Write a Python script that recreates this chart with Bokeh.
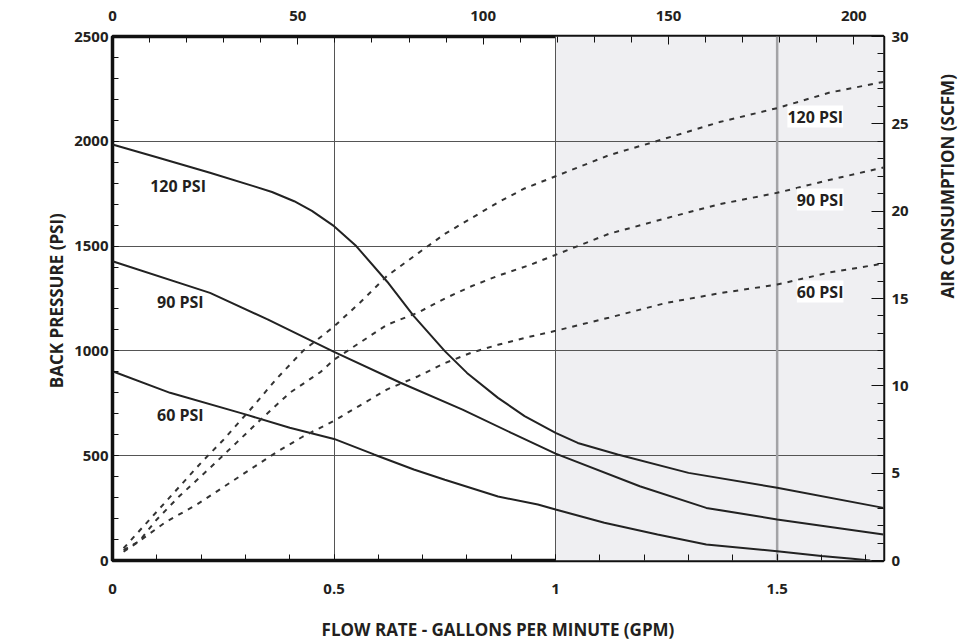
import math
from bokeh.plotting import figure
from bokeh.models import Range1d, LinearAxis, FixedTicker, BoxAnnotation, Span, Label
from bokeh.embed import file_html
from bokeh.resources import INLINE

# ---------------- data ----------------
# Back pressure (PSI) vs flow (GPM), solid curves
bp120_gpm = [0, 0.1, 0.22, 0.32, 0.36, 0.41, 0.45, 0.5, 0.55, 0.62, 0.68, 0.75, 0.8, 0.87, 0.93, 1.0, 1.05, 1.14, 1.3, 1.5, 1.74]
bp120_psi = [1985, 1924, 1850, 1785, 1758, 1714, 1668, 1595, 1500, 1330, 1166, 999, 895, 776, 689, 609, 561, 506, 418, 347, 251]

bp90_gpm = [0, 0.22, 0.35, 0.5, 0.65, 0.79, 0.9, 1.0, 1.19, 1.34, 1.5, 1.74]
bp90_psi = [1428, 1277, 1150, 995, 848, 720, 609, 510, 354, 251, 196, 124]

bp60_gpm = [0, 0.13, 0.3, 0.4, 0.5, 0.59, 0.68, 0.75, 0.87, 0.96, 1.0, 1.11, 1.23, 1.34, 1.5, 1.6, 1.67, 1.71]
bp60_psi = [903, 800, 697, 633, 580, 506, 434, 385, 305, 267, 243, 180, 124, 76, 44, 21, 8, 0]

# Air consumption (SCFM) vs flow (GPM), dashed curves
air120_gpm = [0.025, 0.05, 0.1, 0.15, 0.2, 0.25, 0.32, 0.37, 0.43, 0.5, 0.56, 0.62, 0.69, 0.75, 0.81, 0.87, 0.93, 1.0, 1.12, 1.24, 1.37, 1.5, 1.62, 1.74]
air120_scfm = [0.7, 1.4, 2.8, 4.2, 5.6, 6.9, 8.9, 10.4, 12.0, 13.4, 14.8, 16.3, 17.6, 18.7, 19.6, 20.5, 21.3, 22.0, 23.2, 24.1, 25.1, 25.9, 26.8, 27.4]

air90_gpm = [0.025, 0.06, 0.1, 0.15, 0.22, 0.28, 0.34, 0.4, 0.47, 0.5, 0.56, 0.62, 0.69, 0.75, 0.81, 0.87, 0.94, 1.0, 1.12, 1.25, 1.37, 1.5, 1.62, 1.74]
air90_scfm = [0.6, 1.1, 2.35, 3.66, 5.3, 6.75, 8.2, 9.6, 10.8, 11.5, 12.5, 13.5, 14.2, 15.0, 15.7, 16.3, 16.9, 17.5, 18.7, 19.6, 20.4, 21.05, 21.8, 22.5]

air60_gpm = [0.025, 0.06, 0.12, 0.19, 0.25, 0.31, 0.37, 0.43, 0.5, 0.56, 0.62, 0.69, 0.75, 0.81, 0.87, 0.94, 1.0, 1.12, 1.25, 1.37, 1.5, 1.62, 1.74]
air60_scfm = [0.5, 1.1, 2.2, 3.2, 4.2, 5.2, 6.2, 7.1, 8.0, 8.9, 9.8, 10.55, 11.3, 11.9, 12.35, 12.8, 13.15, 13.9, 14.75, 15.3, 15.8, 16.5, 17.0]

# axes
gpm_ticks = [0, 0.5, 1, 1.5]
gpm_tick_labels = ["0", "0.5", "1", "1.5"]
top_ticks = [0, 50, 100, 150, 200]
psi_ticks = [0, 500, 1000, 1500, 2000, 2500]
scfm_ticks = [0, 5, 10, 15, 20, 25, 30]

# curve labels (text, gpm, psi)
left_labels = [("120 PSI", 0.148, 1789), ("90 PSI", 0.153, 1231), ("60 PSI", 0.153, 692)]
right_labels = [("120 PSI", 1.586, 2118), ("90 PSI", 1.597, 1722), ("60 PSI", 1.597, 1283)]

FONT = "Open Sans"
TXT = "#231f20"

p = figure(width=973, height=643, output_backend="svg", toolbar_location=None,
           x_range=Range1d(0, 1.74), y_range=Range1d(0, 2500),
           min_border_left=112, min_border_right=88, min_border_top=36, min_border_bottom=82)
p.extra_x_ranges = {"top": Range1d(0, 208)}
p.extra_y_ranges = {"air": Range1d(0, 30)}

p.outline_line_color = "#111111"
p.outline_line_width = 3.5
p.background_fill_color = "white"
p.border_fill_color = "white"

# shaded region
p.add_layout(BoxAnnotation(left=1.0, fill_color="#efeff2", fill_alpha=1.0, line_color=None, level="image"))

# grids
p.xgrid.ticker = FixedTicker(ticks=[0.5, 1.0])
p.xgrid.grid_line_color = "#555555"
p.xgrid.grid_line_width = 1
p.ygrid.ticker = FixedTicker(ticks=[500, 1000, 1500, 2000])
p.ygrid.grid_line_color = "#555555"
p.ygrid.grid_line_width = 1
p.add_layout(Span(location=1.5, dimension="height", line_color="#a3a3a6", line_width=2.5, level="underlay"))

# curves
for gx, gy in [(bp120_gpm, bp120_psi), (bp90_gpm, bp90_psi), (bp60_gpm, bp60_psi)]:
    p.line(gx, gy, line_color="#222222", line_width=2)
for gx, gy in [(air120_gpm, air120_scfm), (air90_gpm, air90_scfm), (air60_gpm, air60_scfm)]:
    p.line(gx, gy, y_range_name="air", line_color="#333333", line_width=2, line_dash="5 6")

# axes
xa = p.xaxis[0]
xa.ticker = FixedTicker(ticks=gpm_ticks, minor_ticks=[i / 10 for i in range(0, 18)])
xa.major_label_overrides = dict(zip(gpm_ticks, gpm_tick_labels))
xa.axis_label = "FLOW RATE - GALLONS PER MINUTE (GPM)"
ya = p.yaxis[0]
ya.ticker = FixedTicker(ticks=psi_ticks, minor_ticks=list(range(0, 2501, 100)))
ya.axis_label = "BACK PRESSURE  (PSI)"

ta = LinearAxis(x_range_name="top", ticker=FixedTicker(ticks=top_ticks, minor_ticks=list(range(0, 209, 10))))
p.add_layout(ta, "above")
ra = LinearAxis(y_range_name="air", ticker=FixedTicker(ticks=scfm_ticks, minor_ticks=list(range(0, 31))),
                axis_label="AIR CONSUMPTION (SCFM)")
p.add_layout(ra, "right")
try:
    ra.axis_label_orientation = math.pi / 2
except Exception:
    pass

for ax in [xa, ya, ta, ra]:
    ax.axis_line_color = None
    ax.major_tick_out = 0
    ax.minor_tick_out = 0
    ax.major_tick_line_color = "#111111"
    ax.minor_tick_line_color = "#111111"
    ax.major_label_text_font = FONT
    ax.major_label_text_font_style = "bold"
    ax.major_label_text_font_size = "15px"
    ax.major_label_text_color = TXT
    ax.axis_label_text_font = FONT
    ax.axis_label_text_font_style = "bold"
    ax.axis_label_text_font_size = "17px"
    ax.axis_label_text_color = TXT

xa.major_tick_in = 6
xa.minor_tick_in = 6
xa.major_label_standoff = 23
xa.axis_label_standoff = 21
ya.major_tick_in = 6
ya.minor_tick_in = 6
ya.major_label_standoff = 4
ya.axis_label_standoff = 3
ta.major_tick_in = 8
ta.minor_tick_in = 6
ta.major_label_standoff = 16
ra.major_tick_in = 12
ra.minor_tick_in = 6
ra.major_label_standoff = 8
ra.axis_label_standoff = 36

for t, gx, gy in left_labels:
    p.add_layout(Label(x=gx, y=gy, text=t, text_font=FONT, text_font_style="bold", text_font_size="16px",
                       text_color=TXT, text_align="center", text_baseline="middle"))
for t, gx, gy in right_labels:
    p.add_layout(Label(x=gx, y=gy, text=t, text_font=FONT, text_font_style="bold", text_font_size="16px",
                       text_color=TXT, text_align="center", text_baseline="middle",
                       background_fill_color="white", background_fill_alpha=1.0))

open("out.html", "w").write(file_html(p, INLINE))
